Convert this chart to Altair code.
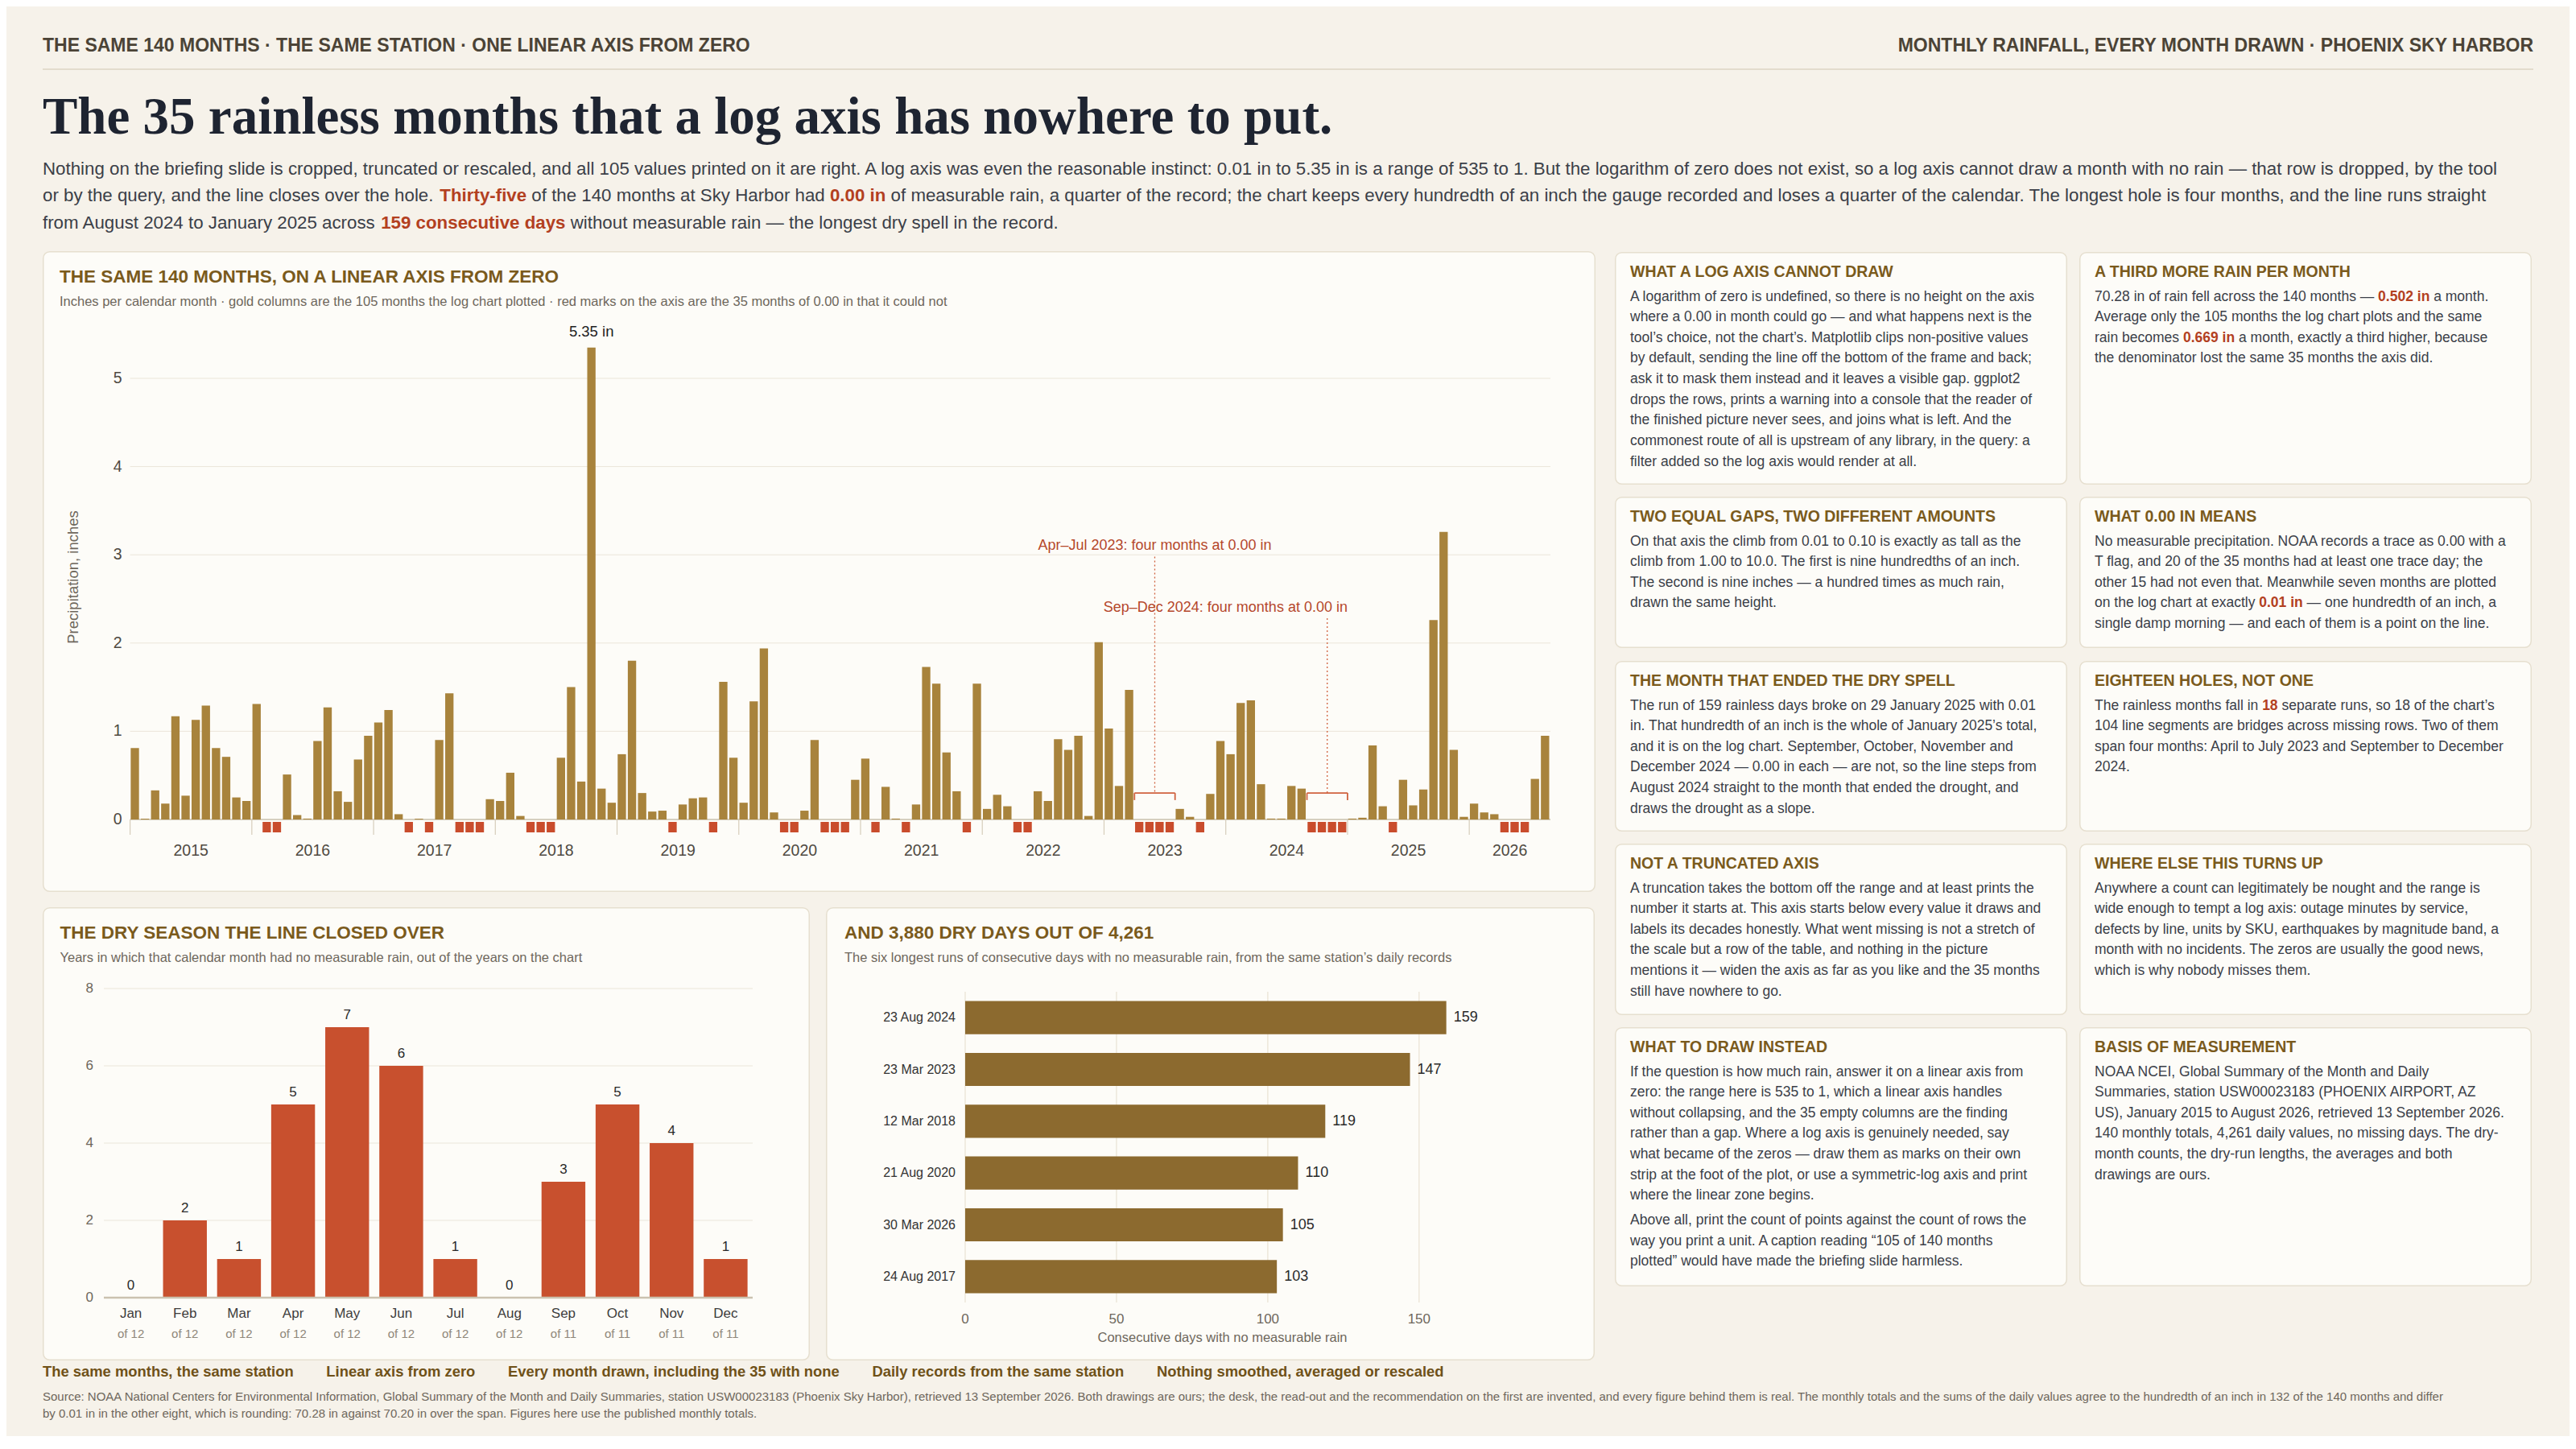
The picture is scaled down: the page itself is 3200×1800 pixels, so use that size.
import re
import altair as alt
import pandas as pd

# ------------------------------------------------------------------ data
FIRST_YEAR = 2015
RAIN_2015 = [0.81, 0.01, 0.33, 0.18, 1.17, 0.27, 1.13, 1.29, 0.81, 0.71, 0.25, 0.21]
RAIN_2016 = [1.31, 0.00, 0.00, 0.51, 0.05, 0.01, 0.89, 1.27, 0.32, 0.20, 0.68, 0.95]
RAIN_2017 = [1.10, 1.24, 0.06, 0.00, 0.01, 0.00, 0.90, 1.43, 0.00, 0.00, 0.00, 0.23]
RAIN_2018 = [0.21, 0.53, 0.04, 0.00, 0.00, 0.00, 0.70, 1.50, 0.43, 5.35, 0.35, 0.19]
RAIN_2019 = [0.74, 1.80, 0.30, 0.09, 0.10, 0.00, 0.17, 0.24, 0.25, 0.00, 1.56, 0.70]
RAIN_2020 = [0.19, 1.34, 1.94, 0.08, 0.00, 0.00, 0.10, 0.90, 0.00, 0.00, 0.00, 0.45]
RAIN_2021 = [0.69, 0.00, 0.37, 0.01, 0.00, 0.17, 1.73, 1.54, 0.76, 0.32, 0.00, 1.54]
RAIN_2022 = [0.12, 0.28, 0.15, 0.00, 0.00, 0.32, 0.21, 0.91, 0.79, 0.95, 0.04, 2.01]
RAIN_2023 = [1.03, 0.38, 1.47, 0.00, 0.00, 0.00, 0.00, 0.12, 0.03, 0.00, 0.29, 0.89]
RAIN_2024 = [0.74, 1.32, 1.35, 0.40, 0.01, 0.01, 0.38, 0.35, 0.00, 0.00, 0.00, 0.00]
RAIN_2025 = [0.01, 0.02, 0.84, 0.15, 0.00, 0.45, 0.16, 0.34, 2.26, 3.26, 0.79, 0.03]
RAIN_2026 = [0.18, 0.08, 0.06, 0.00, 0.00, 0.00, 0.46, 0.95]
RAIN_BY_YEAR = [RAIN_2015, RAIN_2016, RAIN_2017, RAIN_2018, RAIN_2019, RAIN_2020,
                RAIN_2021, RAIN_2022, RAIN_2023, RAIN_2024, RAIN_2025, RAIN_2026]
RAIN_TICKS = [0, 1, 2, 3, 4, 5]

MONTH_NAMES = ["Jan", "Feb", "Mar", "Apr", "May", "Jun", "Jul", "Aug", "Sep", "Oct", "Nov", "Dec"]
DRY_COUNTS = [0, 2, 1, 5, 7, 6, 1, 0, 3, 5, 4, 1]
YEARS_ON_CHART = [12, 12, 12, 12, 12, 12, 12, 12, 11, 11, 11, 11]
DRY_TICKS = [0, 2, 4, 6, 8]

RUN_STARTS = ["23 Aug 2024", "23 Mar 2023", "12 Mar 2018", "21 Aug 2020", "30 Mar 2026", "24 Aug 2017"]
RUN_DAYS = [159, 147, 119, 110, 105, 103]
RUN_TICKS = [0, 50, 100, 150]

ANNOTATIONS = ["Apr\u2013Jul 2023: four months at 0.00 in", "Sep\u2013Dec 2024: four months at 0.00 in"]

KICKER_LEFT = "THE SAME 140 MONTHS \u00b7 THE SAME STATION \u00b7 ONE LINEAR AXIS FROM ZERO"
KICKER_RIGHT = "MONTHLY RAINFALL, EVERY MONTH DRAWN \u00b7 PHOENIX SKY HARBOR"
HEADLINE = "The 35 rainless months that a log axis has nowhere to put."
DEK_LINES = [
    "Nothing on the briefing slide is cropped, truncated or rescaled, and all 105 values printed on it are right. A log axis was even the reasonable instinct: 0.01 in to 5.35 in is a range of 535 to 1. But the logarithm of zero does not exist, so a log axis cannot draw a month with no rain \u2014 that row is dropped, by the tool",
    "or by the query, and the line closes over the hole. [[Thirty-five]] of the 140 months at Sky Harbor had [[0.00 in]] of measurable rain, a quarter of the record; the chart keeps every hundredth of an inch the gauge recorded and loses a quarter of the calendar. The longest hole is four months, and the line runs straight",
    "from August 2024 to January 2025 across [[159 consecutive days]] without measurable rain \u2014 the longest dry spell in the record.",
]

MAIN_TITLE = "THE SAME 140 MONTHS, ON A LINEAR AXIS FROM ZERO"
MAIN_SUB = "Inches per calendar month \u00b7 gold columns are the 105 months the log chart plotted \u00b7 red marks on the axis are the 35 months of 0.00 in that it could not"
MAIN_YTITLE = "Precipitation, inches"
DRY_TITLE = "THE DRY SEASON THE LINE CLOSED OVER"
DRY_SUB = "Years in which that calendar month had no measurable rain, out of the years on the chart"
RUNS_TITLE = "AND 3,880 DRY DAYS OUT OF 4,261"
RUNS_SUB = "The six longest runs of consecutive days with no measurable rain, from the same station\u2019s daily records"
RUNS_XTITLE = "Consecutive days with no measurable rain"

PANEL_TEXTS = [
    ("WHAT A LOG AXIS CANNOT DRAW", [
        "A logarithm of zero is undefined, so there is no height on the axis",
        "where a 0.00 in month could go \u2014 and what happens next is the",
        "tool\u2019s choice, not the chart\u2019s. Matplotlib clips non-positive values",
        "by default, sending the line off the bottom of the frame and back;",
        "ask it to mask them instead and it leaves a visible gap. ggplot2",
        "drops the rows, prints a warning into a console that the reader of",
        "the finished picture never sees, and joins what is left. And the",
        "commonest route of all is upstream of any library, in the query: a",
        "filter added so the log axis would render at all.",
    ]),
    ("A THIRD MORE RAIN PER MONTH", [
        "70.28 in of rain fell across the 140 months \u2014 [[0.502 in]] a month.",
        "Average only the 105 months the log chart plots and the same",
        "rain becomes [[0.669 in]] a month, exactly a third higher, because",
        "the denominator lost the same 35 months the axis did.",
    ]),
    ("TWO EQUAL GAPS, TWO DIFFERENT AMOUNTS", [
        "On that axis the climb from 0.01 to 0.10 is exactly as tall as the",
        "climb from 1.00 to 10.0. The first is nine hundredths of an inch.",
        "The second is nine inches \u2014 a hundred times as much rain,",
        "drawn the same height.",
    ]),
    ("WHAT 0.00 IN MEANS", [
        "No measurable precipitation. NOAA records a trace as 0.00 with a",
        "T flag, and 20 of the 35 months had at least one trace day; the",
        "other 15 had not even that. Meanwhile seven months are plotted",
        "on the log chart at exactly [[0.01 in]] \u2014 one hundredth of an inch, a",
        "single damp morning \u2014 and each of them is a point on the line.",
    ]),
    ("THE MONTH THAT ENDED THE DRY SPELL", [
        "The run of 159 rainless days broke on 29 January 2025 with 0.01",
        "in. That hundredth of an inch is the whole of January 2025\u2019s total,",
        "and it is on the log chart. September, October, November and",
        "December 2024 \u2014 0.00 in each \u2014 are not, so the line steps from",
        "August 2024 straight to the month that ended the drought, and",
        "draws the drought as a slope.",
    ]),
    ("EIGHTEEN HOLES, NOT ONE", [
        "The rainless months fall in [[18]] separate runs, so 18 of the chart\u2019s",
        "104 line segments are bridges across missing rows. Two of them",
        "span four months: April to July 2023 and September to December",
        "2024.",
    ]),
    ("NOT A TRUNCATED AXIS", [
        "A truncation takes the bottom off the range and at least prints the",
        "number it starts at. This axis starts below every value it draws and",
        "labels its decades honestly. What went missing is not a stretch of",
        "the scale but a row of the table, and nothing in the picture",
        "mentions it \u2014 widen the axis as far as you like and the 35 months",
        "still have nowhere to go.",
    ]),
    ("WHERE ELSE THIS TURNS UP", [
        "Anywhere a count can legitimately be nought and the range is",
        "wide enough to tempt a log axis: outage minutes by service,",
        "defects by line, units by SKU, earthquakes by magnitude band, a",
        "month with no incidents. The zeros are usually the good news,",
        "which is why nobody misses them.",
    ]),
    ("WHAT TO DRAW INSTEAD", [
        "If the question is how much rain, answer it on a linear axis from",
        "zero: the range here is 535 to 1, which a linear axis handles",
        "without collapsing, and the 35 empty columns are the finding",
        "rather than a gap. Where a log axis is genuinely needed, say",
        "what became of the zeros \u2014 draw them as marks on their own",
        "strip at the foot of the plot, or use a symmetric-log axis and print",
        "where the linear zone begins.",
        "",
        "Above all, print the count of points against the count of rows the",
        "way you print a unit. A caption reading \u201c105 of 140 months",
        "plotted\u201d would have made the briefing slide harmless.",
    ]),
    ("BASIS OF MEASUREMENT", [
        "NOAA NCEI, Global Summary of the Month and Daily",
        "Summaries, station USW00023183 (PHOENIX AIRPORT, AZ",
        "US), January 2015 to August 2026, retrieved 13 September 2026.",
        "140 monthly totals, 4,261 daily values, no missing days. The dry-",
        "month counts, the dry-run lengths, the averages and both",
        "drawings are ours.",
    ]),
]

FOOTER_TAGS = ["The same months, the same station", "Linear axis from zero",
               "Every month drawn, including the 35 with none", "Daily records from the same station",
               "Nothing smoothed, averaged or rescaled"]
SOURCE_LINES = [
    "Source: NOAA National Centers for Environmental Information, Global Summary of the Month and Daily Summaries, station USW00023183 (Phoenix Sky Harbor), retrieved 13 September 2026. Both drawings are ours; the desk, the read-out and the recommendation on the first are invented, and every figure behind them is real. The monthly totals and the sums of the daily values agree to the hundredth of an inch in 132 of the 140 months and differ",
    "by 0.01 in in the other eight, which is rounding: 70.28 in against 70.20 in over the span. Figures here use the published monthly totals.",
]

# ------------------------------------------------------------------ style
SANS = "Liberation Sans"
SERIF = "Liberation Serif"
PAGE_BG = "#f6f2ea"
PANEL_BG = "#fdfcf8"
PANEL_STROKE = "#e6dfcf"
INK = "#1e2431"
BODY = "#3b3f48"
MUTED = "#6e675c"
TICK_C = "#4f4a42"
KICKER_C = "#4b4336"
GOLD_TITLE = "#7a5a1c"
FOOT_TAG_C = "#6f5118"
HILITE = "#b3401f"
BAR_GOLD = "#a8833c"
BAR_RED = "#c8502e"
BAR_BROWN = "#8c6a2f"
ZERO_RED = "#c94c2c"
ANN_C = "#b5472b"
ANN_LINE = "#d0623f"
GRID_C = "#ebe5d9"
RULE_C = "#ddd4c3"

OFF = 8                      # the chart's origin sits 8 px into the page
CANVAS_W, CANVAS_H = 3184, 1776


def P(v):
    return v - OFF


# Liberation Sans (Arial metrics) advance widths per 1000 em, for inline runs
W_REG, W_BOLD = {}, {}


def _set(table, chars, w):
    for c in chars:
        table[c] = w


_set(W_REG, "ijl\u2019", 222)
_set(W_REG, " !,./:;I[]ft\u00b7", 278)
_set(W_REG, "r-()\u201c\u201d", 333)
_set(W_REG, "ckvxyzJs", 500)
_set(W_REG, "0123456789abdeghnopquL\u2013?", 556)
_set(W_REG, "FTZ", 611)
_set(W_REG, "ABEKPSVXY", 667)
_set(W_REG, "CDHNRUw", 722)
_set(W_REG, "GOQ", 778)
_set(W_REG, "mM", 833)
_set(W_REG, "W", 944)
_set(W_REG, "\u2014", 1000)

_set(W_BOLD, " ijlI,.!\u2019", 278)
_set(W_BOLD, ":;ft-()", 333)
_set(W_BOLD, "r", 389)
_set(W_BOLD, "z", 500)
_set(W_BOLD, "0123456789acekvsxyJ", 556)
_set(W_BOLD, "bdghnopquFTLZ", 611)
_set(W_BOLD, "EPSVXY", 667)
_set(W_BOLD, "ABCDHKNRU", 722)
_set(W_BOLD, "GOQw", 778)
_set(W_BOLD, "M", 833)
_set(W_BOLD, "m", 889)
_set(W_BOLD, "W", 944)
_set(W_BOLD, "\u2014", 1000)


def text_w(s, bold, fs):
    t = W_BOLD if bold else W_REG
    return sum(t.get(c, 556) for c in s) * fs / 1000.0


# ------------------------------------------------------------------ text bag (pixel-placed text)
BAG = {}


def put(t, x, y, size, color, weight="normal", align="left", baseline="middle", font=SANS):
    BAG.setdefault((weight, align, baseline, font), []).append(
        {"t": t, "x": P(x), "y": P(y), "s": size, "c": color})


def put_lines(lines, x0, y0, lh, fs, color, hicolor, para_gap=0.0):
    y = y0
    for line in lines:
        if line == "":
            y += para_gap
            continue
        x = x0
        for k, part in enumerate(re.split(r"\[\[(.*?)\]\]", line)):
            bold = k % 2 == 1
            if not part:
                continue
            lead = len(part) - len(part.lstrip(" "))
            stripped = part.strip(" ")
            if stripped:
                put(stripped, x + text_w(" " * lead, bold, fs), y, fs,
                    hicolor if bold else color, "bold" if bold else "normal")
            x += text_w(part, bold, fs)
        y += lh


def bag_layers():
    out = []
    for (weight, align, baseline, font), rows in BAG.items():
        out.append(alt.Chart(pd.DataFrame(rows)).mark_text(
            align=align, baseline=baseline, font=font, fontWeight=weight).encode(
            x=alt.X("x:Q", scale=None, axis=None),
            y=alt.Y("y:Q", scale=None, axis=None),
            text="t:N",
            size=alt.Size("s:Q", scale=None, legend=None),
            color=alt.Color("c:N", scale=None, legend=None)))
    return out


ONE = pd.DataFrame({"k": [0]})


def hrule(x0, x1, y, color, width):
    return alt.Chart(ONE).mark_rule(color=color, strokeWidth=width).encode(
        x=alt.value(P(x0)), x2=alt.value(P(x1)), y=alt.value(P(y)))


# ------------------------------------------------------------------ cards
BOXES = [(53, 312, 1982, 1108), (53, 1127, 1006, 1690), (1026, 1127, 1981, 1690)]
TP_COLS = [2006, 2583]
TP_W = 562
TP_ROWS = [(313, 602), (617, 805), (821, 1033), (1048, 1261), (1276, 1598)]
for r, (top, bot) in enumerate(TP_ROWS):
    for c, left in enumerate(TP_COLS):
        BOXES.append((left, top, left + TP_W, bot))
boxes_df = pd.DataFrame([{"x": P(a) + 0.75, "x2": P(c) - 0.75, "y": P(b) + 0.75, "y2": P(d) - 0.75}
                         for a, b, c, d in BOXES])
cards = alt.Chart(boxes_df).mark_rect(fill=PANEL_BG, stroke=PANEL_STROKE, strokeWidth=1.5,
                                      cornerRadius=8).encode(
    x=alt.X("x:Q", scale=None, axis=None), x2="x2:Q",
    y=alt.Y("y:Q", scale=None, axis=None), y2="y2:Q")

# ------------------------------------------------------------------ header and footer text
put(KICKER_LEFT, 53, 57, 23, KICKER_C, "bold")
put(KICKER_RIGHT, 3147, 57, 23, KICKER_C, "bold", align="right")
put(HEADLINE, 53, 166, 65, INK, "bold", baseline="alphabetic", font=SERIF)
put_lines(DEK_LINES, 53, 210, 33.35, 22.3, BODY, HILITE)

tx = 53.0
for t in FOOTER_TAGS:
    put(t, tx, 1704, 18.4, FOOT_TAG_C, "bold")
    tx += text_w(t, True, 18.4) + 40.5
for k, s in enumerate(SOURCE_LINES):
    put(s, 53, 1735 + 21 * k, 15, MUTED)

# text cards
for idx, (title, lines) in enumerate(PANEL_TEXTS):
    left = TP_COLS[idx % 2]
    top = TP_ROWS[idx // 2][0]
    put(title, left + 19, top + 24.5, 19.5, GOLD_TITLE, "bold")
    put_lines(lines, left + 19, top + 55.5, 25.65, 17.5, BODY, HILITE, para_gap=5)

# ------------------------------------------------------------------ main monthly chart
M_L, M_R = 161.6, 1926.0
M_ZERO = 1018.0
PX_PER_IN = 109.6
Y_MAX = 5.6

values = [v for yr in RAIN_BY_YEAR for v in yr]
n_months = len(values)
months = pd.DataFrame({"i": list(range(n_months)), "v": values})
months["x0"] = months["i"] + 0.06
months["x1"] = months["i"] + 0.88
months["xc"] = months["i"] + 0.47
bars_df = months[months["v"] > 0]
zero_df = months[months["v"] == 0]

year_starts, year_centres, year_labels = [], [], []
pos = 0
for k, yr in enumerate(RAIN_BY_YEAR):
    year_starts.append(pos)
    year_centres.append(pos + len(yr) / 2)
    year_labels.append(str(FIRST_YEAR + k))
    pos += len(yr)

xs = alt.Scale(domain=[0, n_months], range=[P(M_L), P(M_R)], nice=False, zero=False)
ys = alt.Scale(domain=[0, Y_MAX], range=[P(M_ZERO), P(M_ZERO - Y_MAX * PX_PER_IN)], nice=False, zero=False)

rain_ticks_df = pd.DataFrame({"g": RAIN_TICKS, "lab": [str(g) for g in RAIN_TICKS]})
main_grid = alt.Chart(rain_ticks_df).mark_rule(color=GRID_C, strokeWidth=1).encode(
    y=alt.Y("g:Q", scale=ys, axis=None), x=alt.value(P(M_L)), x2=alt.value(P(M_R)))
main_ylabels = alt.Chart(rain_ticks_df).mark_text(align="right", baseline="middle", fontSize=19.5,
                                                  color=TICK_C, font=SANS).encode(
    y=alt.Y("g:Q", scale=ys, axis=None), x=alt.value(P(151.6)), text="lab:N")
year_df = pd.DataFrame({"c": year_centres, "lab": year_labels})
main_xlabels = alt.Chart(year_df).mark_text(align="center", baseline="middle", fontSize=19.5,
                                            color=TICK_C, font=SANS).encode(
    x=alt.X("c:Q", scale=xs, axis=None), y=alt.value(P(1057)), text="lab:N")
main_domain = hrule(M_L, M_R, M_ZERO, "#cdc4b2", 1.5)

bars = alt.Chart(bars_df).mark_rect(color=BAR_GOLD).encode(
    x=alt.X("x0:Q", scale=xs, axis=None), x2="x1:Q",
    y=alt.Y("v:Q", scale=ys, axis=None), y2=alt.datum(0))
zeros = alt.Chart(zero_df).mark_rect(color=ZERO_RED).encode(
    x=alt.X("x0:Q", scale=xs, axis=None), x2="x1:Q", y=alt.value(P(M_ZERO + 3)), y2=alt.value(P(M_ZERO + 16)))
year_ticks = alt.Chart(pd.DataFrame({"b": year_starts})).mark_rule(color="#d6cdbb", strokeWidth=1.2).encode(
    x=alt.X("b:Q", scale=xs, axis=None), y=alt.value(P(M_ZERO)), y2=alt.value(P(M_ZERO + 19)))

peak = months.loc[[months["v"].idxmax()]].copy()
peak["label"] = peak["v"].map(lambda v: f"{v:.2f} in")
peak_label = alt.Chart(peak).mark_text(baseline="middle", dy=-20, fontSize=18.5, color="#222222",
                                       font=SANS).encode(
    x=alt.X("xc:Q", scale=xs, axis=None), y=alt.Y("v:Q", scale=ys, axis=None), text="label:N")

# runs of four rainless months, found in the data
long_runs = []
start = None
for i, v in enumerate(values + [1]):
    if v == 0 and start is None:
        start = i
    elif v != 0 and start is not None:
        if i - start >= 4:
            long_runs.append((start, i))
        start = None

ANN_TEXT_Y = [3.10, 2.40]
ANN_LINE_TOP = [2.98, 2.28]
BRACKET_Y, BRACKET_LOW = 0.30, 0.22
ann_layers = []
for k, (s, e) in enumerate(long_runs[:2]):
    mid = (s + e) / 2
    tx_, al = (mid, "center") if k == 0 else (e, "right")
    ann_layers.append(
        alt.Chart(pd.DataFrame({"x": [tx_], "y": [ANN_TEXT_Y[k]], "t": [ANNOTATIONS[k]]})).mark_text(
            align=al, baseline="middle", fontSize=18, color=ANN_C, font=SANS).encode(
            x=alt.X("x:Q", scale=xs, axis=None), y=alt.Y("y:Q", scale=ys, axis=None), text="t:N"))
    ann_layers.append(
        alt.Chart(pd.DataFrame({"x": [mid], "y": [ANN_LINE_TOP[k]], "y2": [BRACKET_Y]})).mark_rule(
            color=ANN_LINE, strokeWidth=1.3, strokeDash=[2, 3]).encode(
            x=alt.X("x:Q", scale=xs, axis=None), y=alt.Y("y:Q", scale=ys, axis=None), y2="y2:Q"))
    ann_layers.append(
        alt.Chart(pd.DataFrame({"x": [s], "x2": [e], "y": [BRACKET_Y]})).mark_rule(
            color=ANN_LINE, strokeWidth=1.8).encode(
            x=alt.X("x:Q", scale=xs, axis=None), x2="x2:Q", y=alt.Y("y:Q", scale=ys, axis=None)))
    ann_layers.append(
        alt.Chart(pd.DataFrame({"x": [s, e], "y": [BRACKET_Y] * 2, "y2": [BRACKET_LOW] * 2})).mark_rule(
            color=ANN_LINE, strokeWidth=1.8).encode(
            x=alt.X("x:Q", scale=xs, axis=None), y=alt.Y("y:Q", scale=ys, axis=None), y2="y2:Q"))

put(MAIN_TITLE, 74, 344, 22.5, GOLD_TITLE, "bold")
put(MAIN_SUB, 74, 375, 16.5, MUTED)
y_title = alt.Chart(pd.DataFrame({"t": [MAIN_YTITLE]})).mark_text(
    align="center", baseline="middle", angle=270, fontSize=18.5, color=MUTED, font=SANS).encode(
    x=alt.value(P(91)), y=alt.value(P(717)), text="t:N")

# ------------------------------------------------------------------ dry season chart
D_L, D_R, D_ZERO, D_TOP = 129, 935, 1612, 1228
dry_df = pd.DataFrame({"m": MONTH_NAMES, "n": DRY_COUNTS, "of": [f"of {k}" for k in YEARS_ON_CHART]})
dxs = alt.Scale(domain=MONTH_NAMES, range=[P(D_L), P(D_R)], paddingInner=0.19, paddingOuter=0.095)
dys = alt.Scale(domain=[0, 8], range=[P(D_ZERO), P(D_TOP)], nice=False, zero=False)
dry_ticks_df = pd.DataFrame({"g": DRY_TICKS, "lab": [str(g) for g in DRY_TICKS]})
dry_grid = alt.Chart(dry_ticks_df).mark_rule(color=GRID_C, strokeWidth=1.2).encode(
    y=alt.Y("g:Q", scale=dys, axis=None), x=alt.value(P(D_L)), x2=alt.value(P(D_R)))
dry_ylabels = alt.Chart(dry_ticks_df).mark_text(align="right", baseline="middle", fontSize=17,
                                                color=MUTED, font=SANS).encode(
    y=alt.Y("g:Q", scale=dys, axis=None), x=alt.value(P(116)), text="lab:N")
dry_bars = alt.Chart(dry_df).mark_bar(color=BAR_RED).encode(
    x=alt.X("m:N", scale=dxs, axis=None),
    y=alt.Y("n:Q", scale=dys, axis=None), y2=alt.datum(0))
dry_domain = hrule(D_L, D_R, D_ZERO, "#cbc2b0", 2.5)
dry_vals = alt.Chart(dry_df).mark_text(baseline="middle", dy=-15, fontSize=17, color="#2a2a2a",
                                       font=SANS).encode(
    x=alt.X("m:N", scale=dxs, axis=None), y=alt.Y("n:Q", scale=dys, axis=None), text="n:Q")
dry_months = alt.Chart(dry_df).mark_text(baseline="middle", fontSize=17, color="#3d3d3d", font=SANS).encode(
    x=alt.X("m:N", scale=dxs, axis=None), y=alt.value(P(1632.4)), text="m:N")
dry_of = alt.Chart(dry_df).mark_text(baseline="middle", fontSize=15, color="#8f877a", font=SANS).encode(
    x=alt.X("m:N", scale=dxs, axis=None), y=alt.value(P(1657.2)), text="of:N")
put(DRY_TITLE, 74.5, 1159, 22.5, GOLD_TITLE, "bold")
put(DRY_SUB, 74.5, 1190, 16.5, MUTED)

# ------------------------------------------------------------------ dry runs chart
R_L, R_R, R_T, R_B = 1199, 1838, 1232, 1618
runs_df = pd.DataFrame({"start": RUN_STARTS, "days": RUN_DAYS})
rxs = alt.Scale(domain=[0, 170], range=[P(R_L), P(R_R)], nice=False, zero=False)
rys = alt.Scale(domain=RUN_STARTS, range=[P(R_T), P(R_B)], paddingInner=0.36, paddingOuter=0.18)
run_ticks_df = pd.DataFrame({"g": RUN_TICKS, "lab": [str(g) for g in RUN_TICKS]})
runs_grid = alt.Chart(run_ticks_df).mark_rule(color="#e9e2d3", strokeWidth=1.2).encode(
    x=alt.X("g:Q", scale=rxs, axis=None), y=alt.value(P(R_T)), y2=alt.value(P(R_B)))
runs_xlabels = alt.Chart(run_ticks_df).mark_text(align="center", baseline="middle", fontSize=17,
                                                 color=MUTED, font=SANS).encode(
    x=alt.X("g:Q", scale=rxs, axis=None), y=alt.value(P(1639)), text="lab:N")
runs_bars = alt.Chart(runs_df).mark_bar(color=BAR_BROWN).encode(
    x=alt.X("days:Q", scale=rxs, axis=None), x2=alt.datum(0),
    y=alt.Y("start:N", scale=rys, axis=None))
runs_vals = alt.Chart(runs_df).mark_text(align="left", baseline="middle", dx=9, fontSize=18,
                                         color="#2a2a2a", font=SANS).encode(
    x=alt.X("days:Q", scale=rxs, axis=None), y=alt.Y("start:N", scale=rys, axis=None), text="days:Q")
runs_ylabels = alt.Chart(runs_df).mark_text(align="right", baseline="middle", fontSize=16,
                                            color="#333333", font=SANS).encode(
    y=alt.Y("start:N", scale=rys, axis=None), x=alt.value(P(1187)), text="start:N")
put(RUNS_TITLE, 1049, 1159, 22.5, GOLD_TITLE, "bold")
put(RUNS_SUB, 1049, 1190, 16.5, MUTED)
put(RUNS_XTITLE, (R_L + R_R) / 2, 1662, 16.5, MUTED, align="center")

# ------------------------------------------------------------------ assemble one canvas
layers = [
    cards,
    hrule(53, 3147, 86, RULE_C, 1.5),
    main_grid, main_domain, bars, zeros, year_ticks, main_ylabels, main_xlabels, peak_label, y_title,
    *ann_layers,
    dry_grid, dry_bars, dry_domain, dry_vals, dry_ylabels, dry_months, dry_of,
    runs_grid, runs_bars, runs_vals, runs_ylabels, runs_xlabels,
    *bag_layers(),
]

chart = alt.layer(*layers).resolve_scale(x="independent", y="independent").properties(
    width=CANVAS_W, height=CANVAS_H, padding=0,
    autosize=alt.AutoSizeParams(type="none"),
    background=PAGE_BG,
).configure(font=SANS).configure_view(stroke="transparent")

chart.save("out.html", embed_options={"renderer": "svg", "actions": False})
